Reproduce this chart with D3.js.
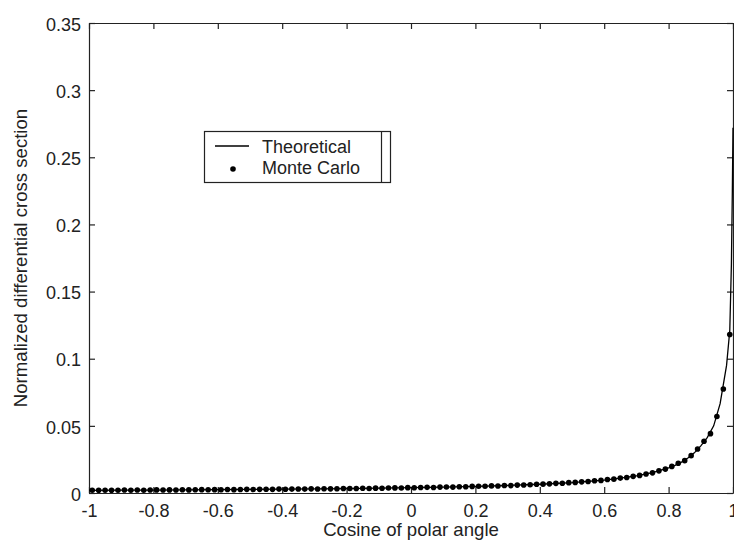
<!DOCTYPE html>
<html>
<head>
<meta charset="utf-8">
<script src="https://cdn.jsdelivr.net/npm/d3@7"></script>
<style>
  html, body { margin: 0; padding: 0; background: #fff; }
  svg { display: block; }
  text { font-family: "Liberation Sans", Arial, Helvetica, sans-serif; fill: #222; }
</style>
</head>
<body>
<svg id="chart" width="734" height="541"></svg>
<script>
// ---- data ----
const xTicks = [-1, -0.8, -0.6, -0.4, -0.2, 0, 0.2, 0.4, 0.6, 0.8, 1];
const xTickLabels = ["-1", "-0.8", "-0.6", "-0.4", "-0.2", "0", "0.2", "0.4", "0.6", "0.8", "1"];
const yTicks = [0, 0.05, 0.1, 0.15, 0.2, 0.25, 0.3, 0.35];
const yTickLabels = ["0", "0.05", "0.1", "0.15", "0.2", "0.25", "0.3", "0.35"];

const theoryX = [-1, -0.9, -0.8, -0.7, -0.6, -0.5, -0.4, -0.3, -0.2, -0.1, 0, 0.1, 0.2, 0.3, 0.4, 0.5, 0.6, 0.65, 0.7, 0.75, 0.8, 0.82, 0.84, 0.86, 0.88, 0.9, 0.92, 0.94, 0.96, 0.98, 0.99, 0.995, 0.998, 1.0];
const theoryY = [0.00199, 0.00209, 0.00220, 0.00233, 0.00248, 0.00264, 0.00283, 0.00304, 0.00330, 0.00359, 0.00394, 0.00438, 0.00492, 0.00560, 0.00651, 0.00778, 0.00966, 0.0110, 0.0127, 0.0151, 0.0187, 0.0206, 0.0230, 0.0260, 0.0299, 0.0351, 0.0412, 0.0500, 0.0665, 0.0950, 0.121, 0.170, 0.225, 0.272];

const mcX = [-0.99, -0.97, -0.95, -0.93, -0.91, -0.89, -0.87, -0.85, -0.83, -0.81,
             -0.79, -0.77, -0.75, -0.73, -0.71, -0.69, -0.67, -0.65, -0.63, -0.61,
             -0.59, -0.57, -0.55, -0.53, -0.51, -0.49, -0.47, -0.45, -0.43, -0.41,
             -0.39, -0.37, -0.35, -0.33, -0.31, -0.29, -0.27, -0.25, -0.23, -0.21,
             -0.19, -0.17, -0.15, -0.13, -0.11, -0.09, -0.07, -0.05, -0.03, -0.01,
             0.01, 0.03, 0.05, 0.07, 0.09, 0.11, 0.13, 0.15, 0.17, 0.19,
             0.21, 0.23, 0.25, 0.27, 0.29, 0.31, 0.33, 0.35, 0.37, 0.39,
             0.41, 0.43, 0.45, 0.47, 0.49, 0.51, 0.53, 0.55, 0.57, 0.59,
             0.61, 0.63, 0.65, 0.67, 0.69, 0.71, 0.73, 0.75, 0.77, 0.79,
             0.81, 0.83, 0.85, 0.87, 0.89, 0.91, 0.93, 0.95, 0.97, 0.99];
const mcY = [0.0021, 0.0020, 0.0021, 0.0020, 0.0021, 0.0022, 0.0021, 0.0022, 0.0021, 0.0022,
             0.0023, 0.0022, 0.0023, 0.0022, 0.0024, 0.0023, 0.0024, 0.0025, 0.0024, 0.0025,
             0.0024, 0.0026, 0.0025, 0.0026, 0.0027, 0.0026, 0.0027, 0.0028, 0.0027, 0.0029,
             0.0028, 0.0029, 0.0030, 0.0029, 0.0031, 0.0030, 0.0032, 0.0031, 0.0032, 0.0033,
             0.0034, 0.0033, 0.0035, 0.0034, 0.0036, 0.0035, 0.0037, 0.0038, 0.0037, 0.0040,
             0.0039, 0.0041, 0.0042, 0.0041, 0.0044, 0.0045, 0.0044, 0.0047, 0.0046, 0.0049,
             0.0050, 0.0050, 0.0053, 0.0052, 0.0056, 0.0055, 0.0059, 0.0060, 0.0061, 0.0065,
             0.0066, 0.0068, 0.0072, 0.0073, 0.0077, 0.0079, 0.0083, 0.0086, 0.0091, 0.0094,
             0.0100, 0.0103, 0.0111, 0.0115, 0.0124, 0.0131, 0.0142, 0.0150, 0.0165, 0.0178,
             0.0198, 0.0222, 0.0241, 0.0278, 0.0328, 0.0385, 0.0442, 0.0570, 0.0775, 0.1180];

const legendLabels = ["Theoretical", "Monte Carlo"];
const xTitle = "Cosine of polar angle";
const yTitle = "Normalized differential cross section";

// ---- layout ----
const pL = 89, pR = 733, pT = 23, pB = 493;
const FS = 18;
const svg = d3.select("#chart");

const x = d3.scaleLinear().domain([-1, 1]).range([pL, pR]);
const y = d3.scaleLinear().domain([0, 0.35]).range([pB, pT]);

const ink = "#222";
const tickLen = 6;

// axes box with inward ticks (MATLAB style)
const gAx = svg.append("g");
const axB = d3.axisBottom(x).tickValues(xTicks).tickSizeInner(-tickLen).tickSizeOuter(0).tickFormat((d, i) => xTickLabels[i]).tickPadding(11);
const axT = d3.axisTop(x).tickValues(xTicks).tickSizeInner(-tickLen).tickSizeOuter(0).tickFormat("");
const axL = d3.axisLeft(y).tickValues(yTicks).tickSizeInner(-tickLen).tickSizeOuter(0).tickFormat((d, i) => yTickLabels[i]).tickPadding(8);
const axR = d3.axisRight(y).tickValues(yTicks).tickSizeInner(-tickLen).tickSizeOuter(0).tickFormat("");

const gb = gAx.append("g").attr("transform", `translate(0,${pB})`).call(axB);
const gt = gAx.append("g").attr("transform", `translate(0,${pT})`).call(axT);
const gl = gAx.append("g").attr("transform", `translate(${pL},0)`).call(axL);
const gr = gAx.append("g").attr("transform", `translate(${pR},0)`).call(axR);

[gb, gt, gl, gr].forEach(g => {
  g.selectAll(".domain").attr("stroke", ink).attr("stroke-width", 1.2);
  g.selectAll(".tick line").attr("stroke", ink).attr("stroke-width", 1.2);
  g.selectAll("text").attr("font-size", FS).attr("fill", ink)
   .style("font-family", '"Liberation Sans", Arial, sans-serif');
});
gb.selectAll("text").attr("dy", "0.71em");
gl.selectAll("text").attr("dy", "0.4em");

// theoretical line
const line = d3.line().x(d => x(d[0])).y(d => y(d[1]));
svg.append("path")
  .datum(theoryX.map((v, i) => [v, theoryY[i]]))
  .attr("d", line)
  .attr("fill", "none")
  .attr("stroke", "#000")
  .attr("stroke-width", 1.3);

// Monte Carlo dots
svg.append("g").selectAll("circle")
  .data(mcX.map((v, i) => [v, mcY[i]]))
  .join("circle")
  .attr("cx", d => x(d[0]))
  .attr("cy", d => y(d[1]))
  .attr("r", 2.8)
  .attr("fill", "#000");

// axis titles
svg.append("text")
  .attr("x", (pL + pR) / 2).attr("y", 536)
  .attr("text-anchor", "middle").attr("font-size", 18.6)
  .text(xTitle);
svg.append("text")
  .attr("transform", `translate(27,${(pT + pB) / 2}) rotate(-90)`)
  .attr("text-anchor", "middle").attr("font-size", 18.6)
  .text(yTitle);

// legend
const lg = svg.append("g");
lg.append("rect").attr("x", 204.5).attr("y", 131.5).attr("width", 186).attr("height", 51)
  .attr("fill", "#fff").attr("stroke", ink).attr("stroke-width", 1.2);
lg.append("line").attr("x1", 381.5).attr("x2", 381.5).attr("y1", 131.5).attr("y2", 182.5)
  .attr("stroke", ink).attr("stroke-width", 1.2);
lg.append("line").attr("x1", 215).attr("x2", 249).attr("y1", 146).attr("y2", 146)
  .attr("stroke", "#000").attr("stroke-width", 1.3);
lg.append("circle").attr("cx", 233).attr("cy", 169).attr("r", 2.8).attr("fill", "#000");
lg.append("text").attr("x", 262).attr("y", 152.5).attr("font-size", FS).text(legendLabels[0]);
lg.append("text").attr("x", 262).attr("y", 174).attr("font-size", FS).text(legendLabels[1]);
</script>
</body>
</html>
